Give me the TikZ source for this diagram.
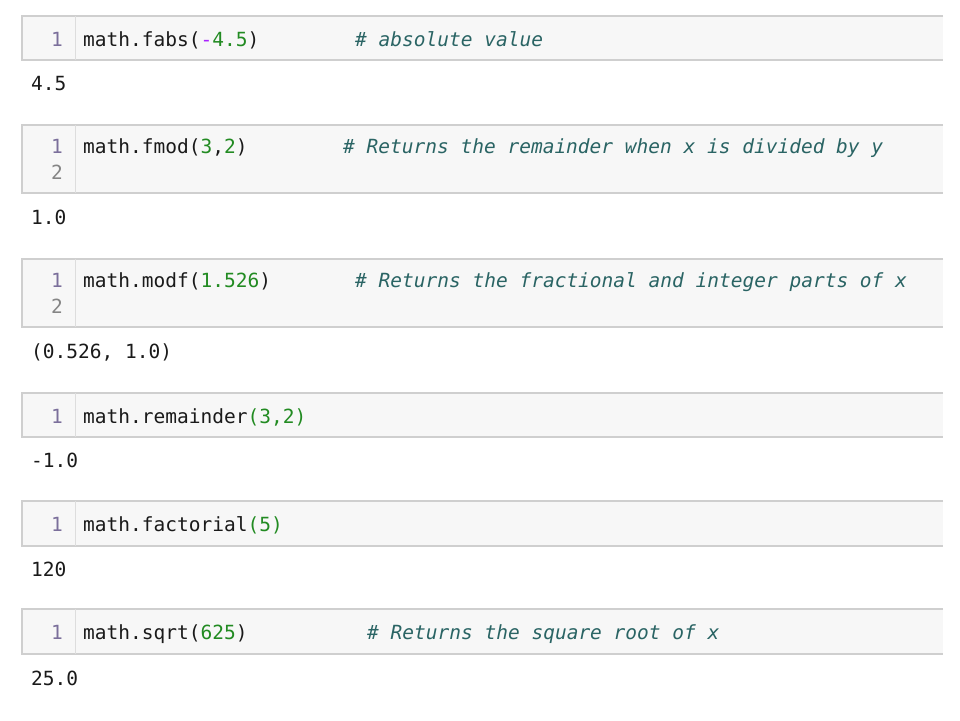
\documentclass[tikz,border=0pt]{standalone}
\usepackage{fontspec}
\setmonofont{DejaVu Sans Mono}
\usepackage{tikz}
\usetikzlibrary{positioning}

\definecolor{cellfill}{HTML}{F7F7F7}
\definecolor{cellline}{HTML}{CFCFCF}
\definecolor{gutter}{HTML}{DDDDDD}
\definecolor{numgreen}{HTML}{228B22}
\definecolor{opviolet}{HTML}{AA22FF}
\definecolor{cmtteal}{HTML}{2A6464}
\definecolor{lnactive}{HTML}{7B6F9B}
\definecolor{lnplain}{HTML}{858585}
\definecolor{ink}{HTML}{1A1A1A}

\begin{document}
\begin{tikzpicture}[x=1pt,y=-1pt,
    txt/.style={inner sep=0pt, anchor=base west, font=\fontsize{19.5}{23}\selectfont\ttfamily, text=ink},
    cmt/.style={txt, font=\fontsize{19.5}{23}\selectfont\ttfamily\itshape, text=cmtteal},
    lnum/.style={inner sep=0pt, anchor=base east, font=\fontsize{19.5}{23}\selectfont\ttfamily, text=lnactive},
    result/.style={txt},
]
\useasboundingbox (0,0) rectangle (960,720);
% input cells
\foreach \n/\t/\b in {1/16/60, 2/125/193, 3/259/327, 4/393/437, 5/501/546, 6/609/654} {
    \fill[cellfill] (22,\t) rectangle (943,\b);
    \draw[cellline, line width=1.2pt] (943,\t) -- (22,\t) -- (22,\b) -- (943,\b);
    \draw[gutter, line width=1pt] (75,\t) -- (75,\b);
}
% cell 1
\node[lnum] (n1) at (63,46.5) {1};
\node[txt] (c1) at (83,46.5) {math.fabs(\textcolor{opviolet}{-}\textcolor{numgreen}{4.5})};
\node[cmt] (k1) at (355,46.5) {\# absolute value};
\node[result] (o1) at (31,90) {4.5};
% cell 2
\node[lnum] (n2) at (63,153.5) {1};
\node[lnum, text=lnplain] (n2b) at (63,179) {2};
\node[txt] (c2) at (83,153.5) {math.fmod(\textcolor{numgreen}{3},\textcolor{numgreen}{2})};
\node[cmt] (k2) at (343,153.5) {\# Returns the remainder when x is divided by y};
\node[result] (o2) at (31,224) {1.0};
% cell 3
\node[lnum] (n3) at (63,287.5) {1};
\node[lnum, text=lnplain] (n3b) at (63,313) {2};
\node[txt] (c3) at (83,287.5) {math.modf(\textcolor{numgreen}{1.526})};
\node[cmt] (k3) at (355,287.5) {\# Returns the fractional and integer parts of x};
\node[result] (o3) at (31,358) {(0.526, 1.0)};
% cell 4
\node[lnum] (n4) at (63,423.5) {1};
\node[txt] (c4) at (83,423.5) {math.remainder\textcolor{numgreen}{(3,2)}};
\node[result] (o4) at (31,467.5) {-1.0};
% cell 5
\node[lnum] (n5) at (63,531.5) {1};
\node[txt] (c5) at (83,531.5) {math.factorial\textcolor{numgreen}{(5)}};
\node[result] (o5) at (31,576) {120};
% cell 6
\node[lnum] (n6) at (63,639.5) {1};
\node[txt] (c6) at (83,639.5) {math.sqrt(\textcolor{numgreen}{625})};
\node[cmt] (k6) at (367,639.5) {\# Returns the square root of x};
\node[result] (o6) at (31,685) {25.0};
\end{tikzpicture}
\end{document}
